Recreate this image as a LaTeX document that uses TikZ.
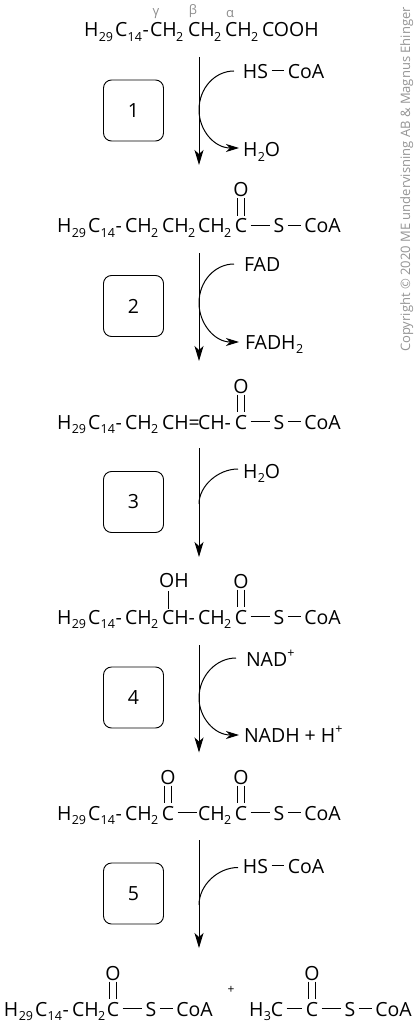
\documentclass[tikz,border=0pt]{standalone}
\usepackage{fontspec}
\setmainfont{Open Sans}
\usetikzlibrary{arrows.meta}
\newcommand{\sbs}[1]{\kern0.02em\raisebox{-0.25em}{\fontsize{12.5}{13}\selectfont #1}}
\newcommand{\sps}[1]{\raisebox{0.42em}{\fontsize{12.5}{13}\selectfont #1}}
\newcommand{\CHtwo}{CH\kern-0.03em\raisebox{-0.25em}{\fontsize{12.5}{13}\selectfont 2}}
\newcommand{\Tail}{H\sbs{29}\kern0.1em C\sbs{14}\kern0.03em-}
\tikzset{x=1pt,y=-1pt,
 chem/.style={inner sep=0pt,outer sep=0pt,anchor=base west,font=\fontsize{19.5}{20}\selectfont},
 atom/.style={inner sep=0pt,outer sep=3.5pt,anchor=base,text height=13.5pt,text depth=0pt,font=\fontsize{19.5}{20}\selectfont},
 greek/.style={inner sep=0pt,anchor=base,text=black!45,font=\fontsize{13}{13}\selectfont},
 stepbox/.style={draw,line width=0.9pt,rounded corners=8pt,minimum width=60pt,minimum height=61pt,inner sep=0pt,font=\fontsize{19.5}{20}\selectfont},
 bond/.style={line width=1pt},
 mainarrow/.style={line width=1pt,-{Stealth[length=15pt,width=9pt,inset=4pt]}},
 sidearrow/.style={line width=1pt,-{Stealth[length=13pt,width=8pt,inset=4pt]}},
 sideline/.style={line width=1pt},
 plus/.style={inner sep=0pt,anchor=base,font=\fontsize{12}{12}\selectfont},
 credit/.style={inner sep=0pt,anchor=base west,rotate=90,text=black!42,font=\fontsize{13}{14}\selectfont}}
% horizontal bond between two atoms, at the mid height of the letters
\newcommand{\hb}[2]{\draw[bond] ([yshift=1pt]#1.east) -- ([yshift=1pt]#2.west);}
% double bond from an oxygen down to its carbon
\newcommand{\db}[2]{%
 \draw[bond] ([xshift=-3.5pt,yshift=2pt]#1.south) -- ([xshift=-3.5pt]#2.north);
 \draw[bond] ([xshift=3.5pt,yshift=2pt]#1.south) -- ([xshift=3.5pt]#2.north);}
% carbonyl + thioester at carbon x, baseline y
\newcommand{\thio}[3]{%
 \node[atom] (#1C) at (#2,#3) {C};
 \node[atom] (#1O) at (#2,#3-36) {O};
 \node[atom] (#1S) at (#2+38,#3) {S};
 \node[atom] (#1A) at (#2+81.5,#3) {CoA};
 \hb{#1C}{#1S}\hb{#1S}{#1A}\db{#1O}{#1C}}
\begin{document}
\begin{tikzpicture}
\useasboundingbox (0,0) rectangle (417,1024);
\node[credit] (copy) at (410,352) {Copyright © 2020 ME undervisning AB \& Magnus Ehinger};
% row 1
\node[chem] (r1a) at (84,37) {\Tail};
\node[chem] (r1b) at (150,37) {\CHtwo};
\node[chem] (r1c) at (188,37) {\CHtwo};
\node[chem] (r1d) at (225,37) {\CHtwo};
\node[chem] (r1e) at (262,37) {COOH};
\node[greek] (gam) at (156,16) {γ};
\node[greek] (bet) at (193,15) {β};
\node[greek] (alp) at (230,18) {α};
% step 1
\node[stepbox] (s1) at (133.5,110.5) {1};
\coordinate (t1) at (199,57); \coordinate (e1) at (199,165);
\draw[mainarrow] (t1) -- (e1);
\node[atom] (hs1) at (255.5,78.5) {HS};
\node[atom] (coa1) at (306,78.5) {CoA};
\hb{hs1}{coa1}
\node[chem] (w1) at (243,157) {H\sbs{2}O};
\coordinate (a1) at (234,71); \coordinate (m1) at (199,110); \coordinate (b1) at (239,148);
\draw[sidearrow] (a1) .. controls (215,71) and (199,88) .. (m1) .. controls (199,130) and (214,148) .. (b1);
% row 2
\node[chem] (r2a) at (57,233) {\Tail};
\node[chem] (r2b) at (125,233) {\CHtwo};
\node[chem] (r2c) at (162,233) {\CHtwo};
\node[chem] (r2d) at (198,233) {\CHtwo};
\thio{r2}{241}{233}
% step 2
\node[stepbox] (s2) at (133.5,306) {2};
\coordinate (t2) at (199,253); \coordinate (e2) at (199,361);
\draw[mainarrow] (t2) -- (e2);
\node[chem] (fad) at (244,271) {FAD};
\node[chem] (fadh) at (245,349) {FADH\sbs{2}};
\coordinate (a2) at (234,264); \coordinate (m2) at (199,303); \coordinate (b2) at (239,342);
\draw[sidearrow] (a2) .. controls (215,264) and (199,281) .. (m2) .. controls (199,323) and (214,342) .. (b2);
% row 3
\node[chem] (r3a) at (57,429) {\Tail};
\node[chem] (r3b) at (125,429) {\CHtwo};
\node[chem] (r3c) at (162,429) {CH=};
\node[chem] (r3d) at (198,429) {CH-};
\thio{r3}{241}{429}
% step 3
\node[stepbox] (s3) at (133.5,502) {3};
\coordinate (t3) at (199,448); \coordinate (e3) at (199,557);
\draw[mainarrow] (t3) -- (e3);
\node[chem] (w3) at (243,478) {H\sbs{2}O};
\coordinate (a3) at (238,469); \coordinate (m3) at (199,504);
\draw[sideline] (a3) .. controls (218,469) and (199,486) .. (m3);
% row 4
\node[chem] (r4a) at (57,624) {\Tail};
\node[chem] (r4b) at (125,624) {\CHtwo};
\node[chem] (r4c) at (162,624) {CH-};
\node[chem] (r4d) at (198,624) {\CHtwo};
\node[atom] (oh) at (174,587) {OH};
\coordinate (hc) at (168,608.5); \coordinate (ho) at (168,591);
\draw[bond] (ho) -- (hc);
\thio{r4}{241}{624}
% step 4
\node[stepbox] (s4) at (133.5,697.5) {4};
\coordinate (t4) at (199,645); \coordinate (e4) at (199,752.5);
\draw[mainarrow] (t4) -- (e4);
\node[chem] (nad) at (246,666) {NAD\sps{+}};
\node[chem] (nadh) at (244,742) {NADH + H\sps{+}};
\coordinate (a4) at (236,658); \coordinate (m4) at (199,698); \coordinate (b4) at (239,735);
\draw[sidearrow] (a4) .. controls (216,658) and (199,676) .. (m4) .. controls (199,717) and (214,735) .. (b4);
% row 5
\node[chem] (r5a) at (57,820) {\Tail};
\node[chem] (r5b) at (125,820) {\CHtwo};
\node[atom] (r5kC) at (168,820) {C};
\node[atom] (r5kO) at (168,784) {O};
\db{r5kO}{r5kC}
\node[chem] (r5d) at (198,820) {\CHtwo};
\coordinate (r5e) at (197,812.25);
\draw[bond] ([yshift=1pt]r5kC.east) -- (r5e);
\thio{r5}{241}{820}
% step 5
\node[stepbox] (s5) at (133.5,893.5) {5};
\coordinate (t5) at (199,840); \coordinate (e5) at (199,948);
\draw[mainarrow] (t5) -- (e5);
\node[atom] (hs5) at (255.5,873) {HS};
\node[atom] (coa5) at (306,873) {CoA};
\hb{hs5}{coa5}
\coordinate (a5) at (238,867.5); \coordinate (m5) at (199,905);
\draw[sideline] (a5) .. controls (218,867.5) and (199,885) .. (m5);
% row 6
\node[chem] (r6a) at (4,1016) {\Tail};
\node[chem] (r6b) at (72,1016) {\CHtwo};
\thio{r6}{113}{1016}
\node[plus] (plus) at (231,993) {+};
\node[atom,anchor=base west,outer sep=0pt] (h3c) at (249,1016) {H\sbs{3}C};
\thio{r7}{312}{1016}
\draw[bond] ([xshift=3.5pt,yshift=1pt]h3c.east) -- ([yshift=1pt]r7C.west);
\end{tikzpicture}
\end{document}
